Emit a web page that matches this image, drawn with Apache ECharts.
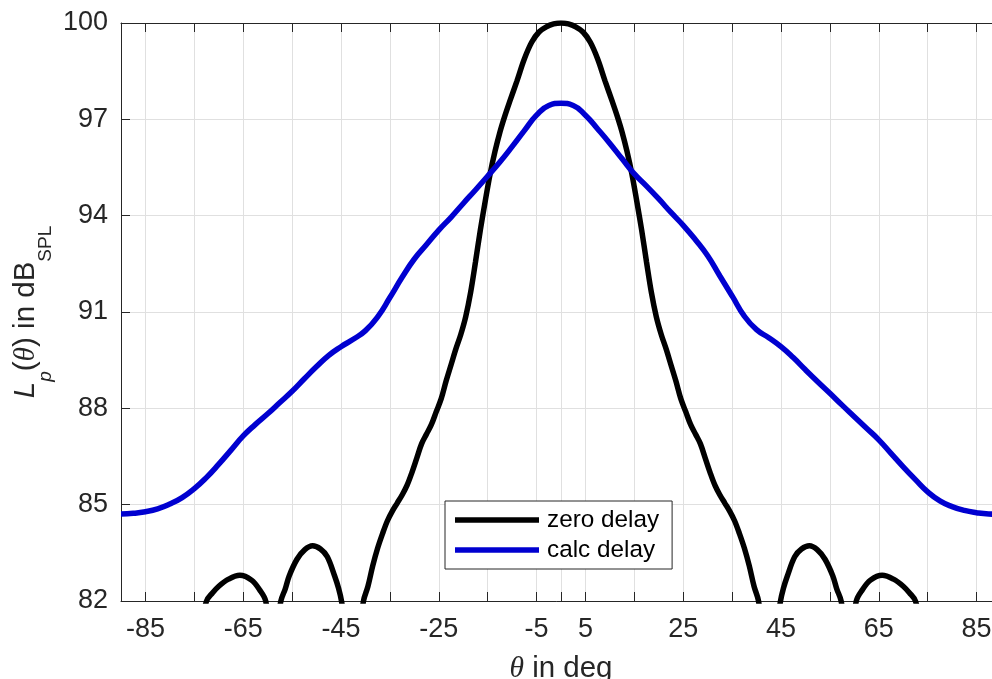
<!DOCTYPE html>
<html>
<head>
<meta charset="utf-8">
<script src="https://cdn.jsdelivr.net/npm/echarts@6/dist/echarts.min.js"></script>
<style>html,body{margin:0;padding:0;background:#fff}#c{width:992px;height:679px}</style>
</head>
<body>
<div id="c"></div>
<script>
// ---- data ----
const xTickValues = [-85,-75,-65,-55,-45,-35,-25,-15,-5,0,5,15,25,35,45,55,65,75,85];
const xLabelValues = [-85,-65,-45,-25,-5,5,25,45,65,85];
const yTickValues = [82,85,88,91,94,97,100];
const seriesNames = ['zero delay', 'calc delay'];

const calcTheta = [-90,-87.5,-85,-82.5,-80,-77.5,-75,-72.5,-70,-67.5,-65,-62.5,-60,-57.5,-55,-52.5,-50,-47.5,-45,-42.5,-40,-37.5,-35,-32.5,-30,-27.5,-25,-22.5,-20,-17.5,-15,-12.5,-10,-7.5,-5,-2.5,0,
  2.5,5,7.5,10,12.5,15,17.5,20,22.5,25,27.5,30,32.5,35,37.5,40,42.5,45,47.5,50,52.5,55,57.5,60,62.5,65,67.5,70,72.5,75,77.5,80,82.5,85,87.5,90];
const calcDelay = [84.71,84.73,84.78,84.87,85.02,85.22,85.5,85.85,86.26,86.7,87.14,87.5,87.83,88.18,88.53,88.92,89.3,89.65,89.92,90.15,90.42,90.85,91.45,92.08,92.65,93.1,93.55,93.95,94.38,94.8,95.23,95.67,96.15,96.65,97.13,97.43,97.5,
  97.43,97.13,96.7,96.25,95.77,95.3,94.92,94.52,94.1,93.7,93.25,92.75,92.12,91.5,90.87,90.45,90.2,89.92,89.58,89.2,88.83,88.47,88.1,87.74,87.38,87.02,86.6,86.18,85.78,85.4,85.12,84.94,84.82,84.75,84.71,84.7];

const zeroTheta = [-76,-73.6,-72.5,-71.3,-70,-68,-65.7,-63.3,-61.6,-60.4,-59.8,-59,-58.1,-57.3,-56.4,-55.6,-54,-52.4,-50.8,-49.2,-47.8,-46.3,-45.5,-44.9,-44,-42.5,-41.1,-40.4,
  -39.5,-38.5,-37.5,-36.5,-35.5,-34.5,-33.5,-32.5,-31.5,-30.5,-29.5,-28.5,-27.5,-26.5,-25.5,-24.5,-23.5,-22.5,-21.5,-20.5,-19.5,-18.5,-17.5,-16.5,-15.5,-14.5,-13.5,-12.5,-11.5,-10.5,-9,-7.5,-6,-4.5,-3,-1.5,0,
  1.5,3,4.5,6,7.5,9,10.5,11.5,12.5,13.5,14.5,15.5,16.5,17.5,18.5,19.5,20.5,21.5,22.5,23.5,24.5,25.5,26.5,27.5,28.5,29.5,30.5,31.5,32.5,33.5,34.5,35.5,36.5,37.5,38.5,39.5,
  40.4,41.1,42.5,44,44.9,45.5,46.3,47.8,49.2,50.8,52.4,54,55.6,56.4,57.3,58.1,59,59.8,60.4,61.6,63.3,65.7,68,70,71.3,72.5,73.6,76];
const zeroDelay = [79.5,81.2,82.0,82.25,82.46,82.68,82.8,82.65,82.34,82.0,81.0,77.0,81.0,82.0,82.38,82.78,83.3,83.6,83.72,83.62,83.38,82.78,82.4,82.0,81.0,76.0,81.0,82.0,
  82.45,83.1,83.65,84.1,84.5,84.8,85.05,85.3,85.6,86.0,86.45,86.9,87.2,87.5,87.9,88.3,88.85,89.35,89.85,90.3,90.85,91.6,92.55,93.55,94.45,95.3,96.0,96.6,97.1,97.55,98.2,98.88,99.4,99.72,99.88,99.97,100,
  99.97,99.88,99.72,99.4,98.88,98.2,97.55,97.1,96.6,96.0,95.3,94.45,93.55,92.55,91.6,90.85,90.3,89.85,89.35,88.85,88.3,87.9,87.5,87.2,86.9,86.45,86.0,85.6,85.3,85.05,84.8,84.5,84.1,83.65,83.1,82.45,
  82.0,81.0,76.0,81.0,82.0,82.4,82.78,83.38,83.62,83.72,83.6,83.3,82.78,82.38,82.0,81.0,77.0,81.0,82.0,82.34,82.65,82.8,82.68,82.46,82.25,82.0,81.2,79.5];

// ---- chart ----
const axisColor = '#262626';
const gridColor = '#e0e0e0';
const sans = 'Liberation Sans, Arial, sans-serif';
const serif = 'Liberation Serif, Times New Roman, serif';

function pairs(xs, ys) { return xs.map((x, i) => [x, ys[i]]); }

const chart = echarts.init(document.getElementById('c'), null, {renderer: 'canvas'});
const baseAxisLine = {show: true, onZero: false, lineStyle: {color: axisColor, width: 1}};

const option = {
  animation: false,
  backgroundColor: '#fff',
  grid: {left: 121, top: 23, width: 880, height: 578, containLabel: false, outerBoundsMode: 'none'},
  legend: {
    data: seriesNames,
    orient: 'vertical',
    left: 445, top: 501,
    padding: [7, 13, 7, 10],
    itemGap: 6,
    icon: 'rect',
    itemWidth: 84,
    itemHeight: 5.5,
    backgroundColor: '#fff',
    borderColor: axisColor,
    borderWidth: 1,
    selectedMode: false,
    textStyle: {fontFamily: sans, fontSize: 24.3, color: '#000', padding: [0, 0, 0, 3]}
  },
  xAxis: [
    {
      type: 'value', min: -90, max: 90, position: 'bottom',
      axisLine: baseAxisLine,
      axisTick: {show: true, inside: true, length: 9, customValues: xTickValues, lineStyle: {color: axisColor, width: 1}},
      axisLabel: {customValues: xLabelValues, color: axisColor, fontFamily: sans, fontSize: 27, margin: 15},
      splitLine: {show: true, lineStyle: {color: gridColor, width: 1}},
      name: '{th|θ} in deg',
      nameLocation: 'middle',
      nameGap: 53,
      nameMoveOverlap: false,
      nameTextStyle: {fontFamily: sans, fontSize: 29.5, color: axisColor,
        rich: {th: {fontFamily: serif, fontStyle: 'italic', fontSize: 29.5, color: axisColor}}}
    },
    {
      type: 'value', min: -90, max: 90, position: 'top',
      axisLine: baseAxisLine,
      axisTick: {show: true, inside: true, length: 9, customValues: xTickValues, lineStyle: {color: axisColor, width: 1}},
      axisLabel: {show: false},
      splitLine: {show: false}
    }
  ],
  yAxis: [
    {
      type: 'value', min: 82, max: 100, position: 'left',
      axisLine: baseAxisLine,
      axisTick: {show: true, inside: true, length: 9, customValues: yTickValues, lineStyle: {color: axisColor, width: 1}},
      axisLabel: {customValues: yTickValues, color: axisColor, fontFamily: sans, fontSize: 27, margin: 13},
      splitLine: {show: true, lineStyle: {color: gridColor, width: 1}},
      name: '{L|L}{p|p}{n|(}{th|θ}{n|) in dB}{s|SPL}',
      nameLocation: 'middle',
      nameGap: 78,
      nameMoveOverlap: false,
      nameTextStyle: {fontFamily: sans, fontSize: 29.5, color: axisColor,
        rich: {
          L: {fontFamily: sans, fontStyle: 'italic', fontSize: 29.5, lineHeight: 32, verticalAlign: 'top', color: axisColor},
          n: {fontFamily: sans, fontSize: 29.5, lineHeight: 32, verticalAlign: 'top', color: axisColor},
          th: {fontFamily: serif, fontStyle: 'italic', fontSize: 29.5, lineHeight: 32, verticalAlign: 'top', color: axisColor},
          p: {fontFamily: sans, fontStyle: 'italic', fontSize: 19, lineHeight: 19, padding: [25, 0, 0, 0], verticalAlign: 'top', color: axisColor},
          s: {fontFamily: sans, fontSize: 19, lineHeight: 19, padding: [25, 0, 0, 0], verticalAlign: 'top', color: axisColor}
        }}
    },
    {
      type: 'value', min: 82, max: 100, position: 'right',
      axisLine: baseAxisLine,
      axisTick: {show: true, inside: true, length: 9, customValues: yTickValues, lineStyle: {color: axisColor, width: 1}},
      axisLabel: {show: false},
      splitLine: {show: false}
    }
  ],
  series: [
    {
      name: seriesNames[0], type: 'line', xAxisIndex: 0, yAxisIndex: 0,
      data: pairs(zeroTheta, zeroDelay),
      showSymbol: false, symbol: 'none', smooth: 0.35, clip: true,
      color: '#000000',
      lineStyle: {color: '#000000', width: 5.5}
    },
    {
      name: seriesNames[1], type: 'line', xAxisIndex: 0, yAxisIndex: 0,
      data: pairs(calcTheta, calcDelay),
      showSymbol: false, symbol: 'none', smooth: 0.5, clip: true,
      color: '#0000d0',
      lineStyle: {color: '#0000d0', width: 5.5}
    }
  ]
};
chart.setOption(option);
</script>
</body>
</html>
